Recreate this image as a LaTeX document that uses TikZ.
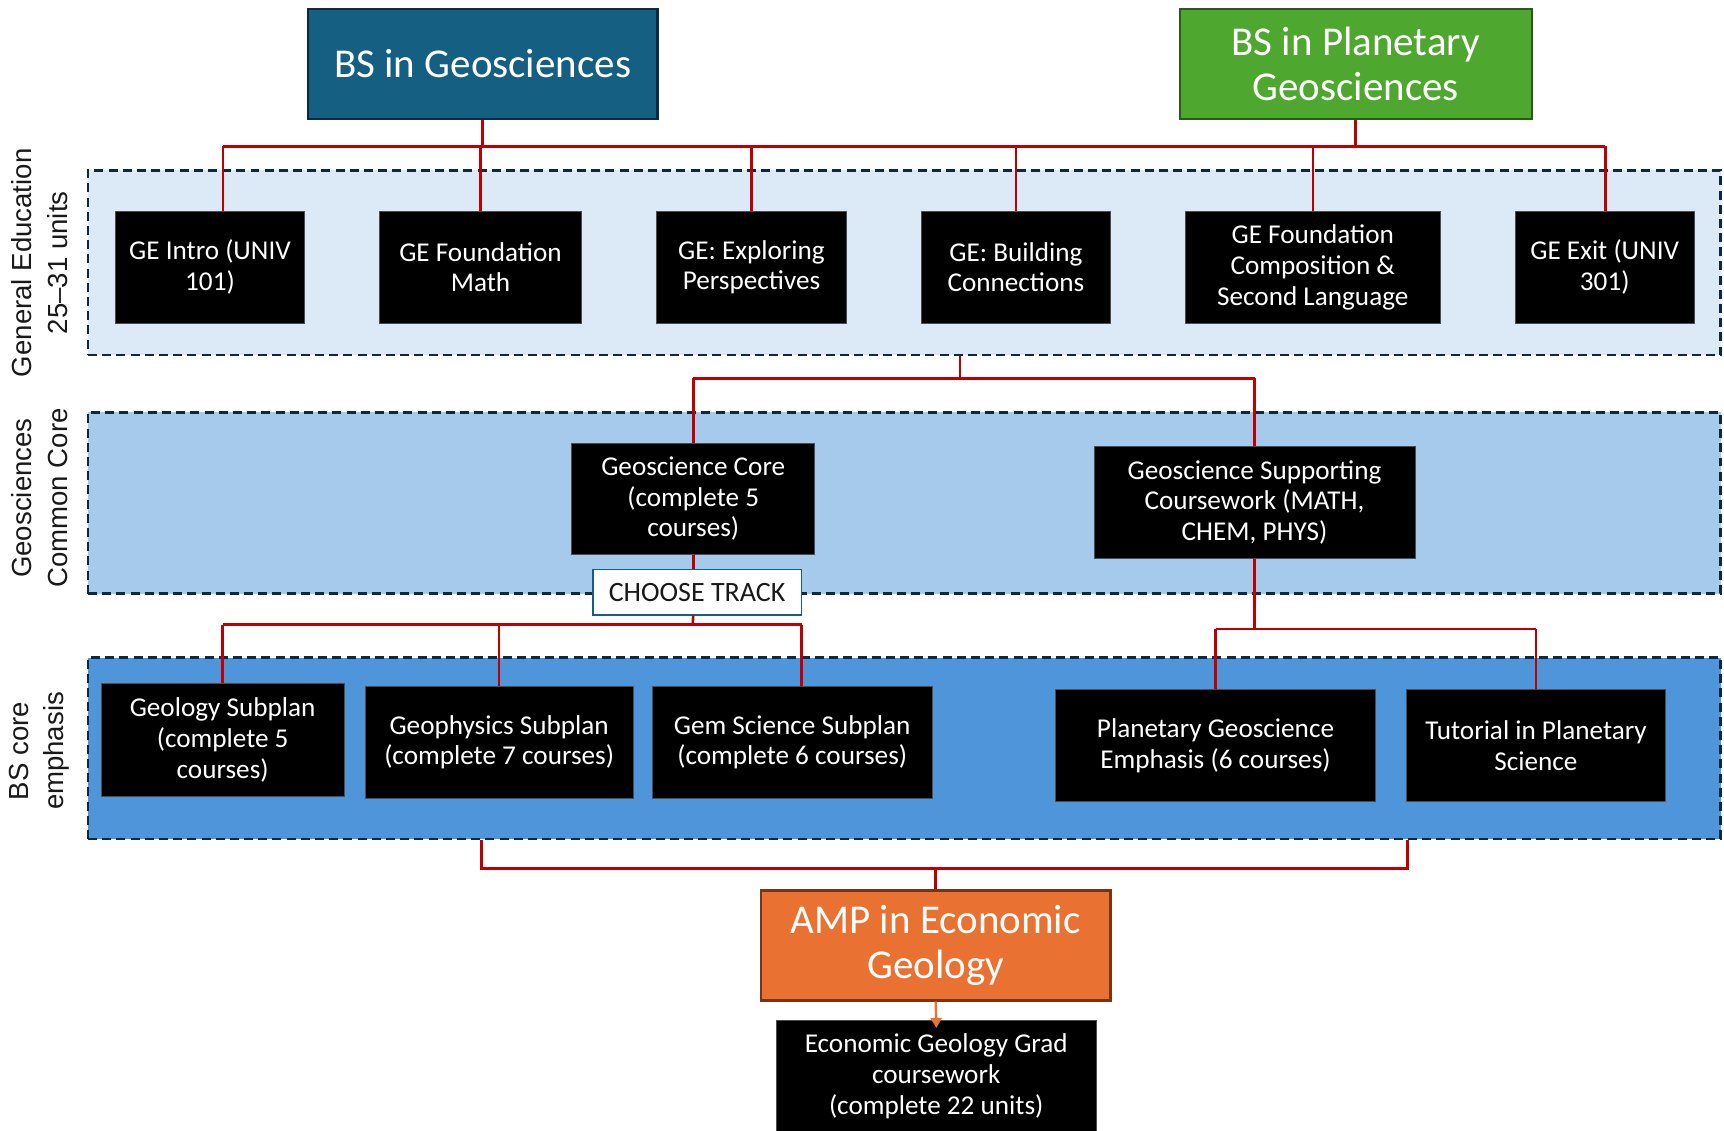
\documentclass[tikz,border=0pt]{standalone}
\usepackage{fontspec}
\setmainfont{Carlito}
\newfontfamily\sidefont{Liberation Sans}
\usetikzlibrary{arrows.meta}
\definecolor{geoteal}{HTML}{156082}
\definecolor{geotealbd}{HTML}{0E2841}
\definecolor{plgreen}{HTML}{4EA72E}
\definecolor{plgreenbd}{HTML}{2A5A18}
\definecolor{amporange}{HTML}{E97132}
\definecolor{amporangebd}{HTML}{7A3414}
\definecolor{geband}{HTML}{DCEAF7}
\definecolor{ccband}{HTML}{A6CAEC}
\definecolor{bsband}{HTML}{4E95D9}
\definecolor{dashbd}{HTML}{0E2841}
\definecolor{linkred}{HTML}{C00000}
\newcommand\bx[7]{\node[#6, minimum width={(#4-#2)*0.55pt}, minimum height={(#5-#3)*0.55pt}] (#1) at ({(#2+#4)/2},{(#3+#5)/2}) {#7};}
\begin{document}
\begin{tikzpicture}[x=0.55pt,y=-0.55pt,
  band/.style={draw=dashbd, line width=1.3pt, dash pattern=on 4.5pt off 2.6pt, inner sep=0pt},
  cbox/.style={fill=black, draw=black!70, line width=0.4pt, text=white, align=center, inner sep=0pt,
    font=\fontsize{13.6}{15.4}\selectfont},
  titlebox/.style={line width=1.1pt, text=white, align=center, inner sep=0pt,
    font=\fontsize{20.5}{22.5}\selectfont},
  sidelab/.style={rotate=90, align=center, text=black!90, font=\sidefont\fontsize{13.8}{17.6}\selectfont},
  link/.style={draw=linkred, line width=1.3pt},
  orlink/.style={draw=amporange, line width=1.2pt, -{Triangle[width=5.5pt,length=5pt]}}
]
\useasboundingbox (0,0) rectangle (1568,1028);

% bands
\bx{geb}{80}{155}{1565}{323}{band, fill=geband}{}
\bx{ccb}{80}{375}{1565}{540}{band, fill=ccband}{}
\bx{bsb}{80}{598}{1565}{763}{band, fill=bsband}{}

% side labels
\node[sidelab] (lab1) at (36,239) {General Education\\25–31 units};
\node[sidelab] (lab2) at (36,453) {Geosciences\\Common Core};
\node[sidelab] (lab3) at (36,683) {BS core\\emphasis};

% title boxes
\bx{bsgeo}{280}{8}{598}{108}{titlebox, fill=geoteal, draw=geotealbd}{BS in Geosciences}
\bx{bspl}{1073}{8}{1393}{108}{titlebox, fill=plgreen, draw=plgreenbd}{BS in Planetary\\Geosciences}

% GE boxes
\bx{ge1}{105}{192}{277}{294}{cbox}{GE Intro (UNIV\\101)}
\bx{ge2}{345}{192}{529}{294}{cbox}{GE Foundation\\Math}
\bx{ge3}{597}{192}{770}{294}{cbox}{GE: Exploring\\Perspectives}
\bx{ge4}{838}{192}{1010}{294}{cbox}{GE: Building\\Connections}
\bx{ge5}{1078}{192}{1310}{294}{cbox}{GE Foundation\\Composition \&\\Second Language}
\bx{ge6}{1378}{192}{1541}{294}{cbox}{GE Exit (UNIV\\301)}

% common core boxes
\bx{core}{520}{403}{741}{504}{cbox}{Geoscience Core\\(complete 5\\courses)}
\bx{supp}{995}{406}{1287}{508}{cbox}{Geoscience Supporting\\Coursework (MATH,\\CHEM, PHYS)}

% BS core boxes
\bx{geol}{92}{622}{313}{724}{cbox}{Geology Subplan\\(complete 5\\courses)}
\bx{geoph}{332}{624}{576}{726}{cbox}{Geophysics Subplan\\(complete 7 courses)}
\bx{gem}{593}{624}{848}{726}{cbox}{Gem Science Subplan\\(complete 6 courses)}
\bx{plemph}{960}{627}{1251}{729}{cbox}{Planetary Geoscience\\Emphasis (6 courses)}
\bx{tut}{1279}{627}{1515}{729}{cbox}{Tutorial in Planetary\\Science}

% AMP and econ
\bx{amp}{692}{810}{1010}{910}{titlebox, fill=amporange, draw=amporangebd}{AMP in Economic\\Geology}
\bx{econ}{706}{928}{997}{1030}{cbox}{Economic Geology Grad\\coursework\\(complete 22 units)}

% top bus
\coordinate (tbL) at (203,133);
\coordinate (tbR) at (1460,133);
\draw[link] (bsgeo.south) -- (bsgeo.south |- tbL);
\draw[link] (bspl.south) -- (bspl.south |- tbL);
\draw[link] (tbL) -- (tbR);
\draw[link] (tbL) -- (tbL |- ge1.north);
\draw[link] (ge2.north |- tbL) -- (ge2.north);
\draw[link] (ge3.north |- tbL) -- (ge3.north);
\draw[link] (ge4.north |- tbL) -- (ge4.north);
\draw[link] (ge5.north |- tbL) -- (ge5.north);
\draw[link] (tbR) -- (tbR |- ge6.north);

% GE -> common core
\coordinate (c2) at (873,344);
\draw[link] (c2 |- geb.south) -- (c2);
\draw[link] (core.north |- c2) -- (supp.north |- c2);
\draw[link] (core.north |- c2) -- (core.north);
\draw[link] (supp.north |- c2) -- (supp.north);

% core -> choose track -> subplans
\bx{choose}{539}{518}{729}{559}{draw=geoteal, fill=white, text=black!90, line width=0.9pt, inner sep=0pt, font=\fontsize{14}{16}\selectfont}{CHOOSE TRACK}
\coordinate (tr) at (630,568);
\coordinate (gemd) at (729,568);
\draw[link] (core.south) -- (core.south |- choose.north);
\draw[link] (core.south |- choose.south) -- (tr);
\draw[link] (geol.north |- tr) -- (gemd);
\draw[link] (geol.north |- tr) -- (geol.north);
\draw[link] (geoph.north |- tr) -- (geoph.north);
\draw[link] (gemd) -- (gemd |- gem.north);

% supporting -> planetary
\coordinate (sp) at (1141,572);
\draw[link] (supp.south) -- (sp);
\draw[link] (plemph.north |- sp) -- (tut.north |- sp);
\draw[link] (plemph.north |- sp) -- (plemph.north);
\draw[link] (tut.north |- sp) -- (tut.north);

% bottom bus
\coordinate (bbL) at (438,790);
\coordinate (bbR) at (1280,790);
\draw[link] (bbL |- bsb.south) -- (bbL) -- (bbR) -- (bbR |- bsb.south);
\draw[link] (amp.north |- bbL) -- (amp.north);

% amp -> econ
\draw[orlink, shorten >=-4pt] (amp.south) -- (econ.north);
\end{tikzpicture}
\end{document}
